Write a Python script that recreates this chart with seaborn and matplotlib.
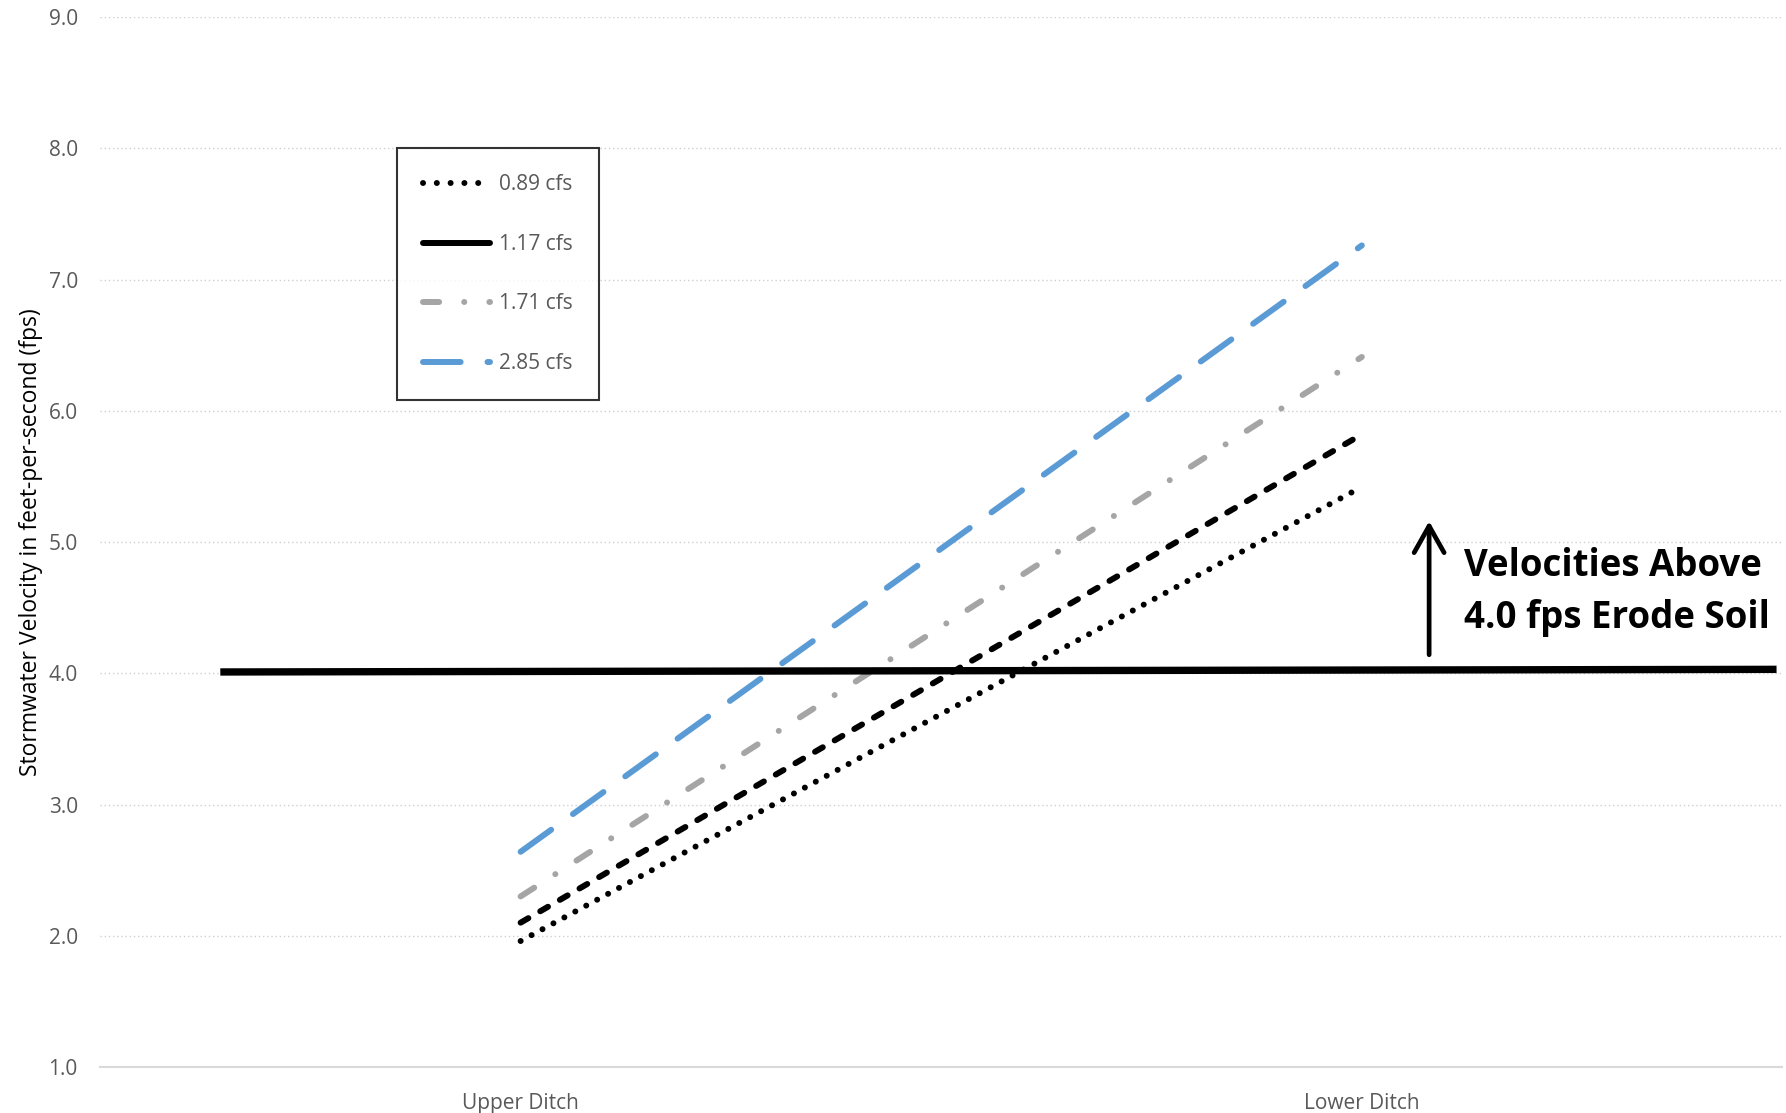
import matplotlib.pyplot as plt
import seaborn as sns
import pandas as pd
from matplotlib.lines import Line2D

plt.switch_backend('Agg')

# data
locations = ["Upper Ditch", "Lower Ditch"]
flows = ["0.89 cfs", "1.17 cfs", "1.71 cfs", "2.85 cfs"]
v_089 = [1.96, 5.42]
v_117 = [2.10, 5.82]
v_171 = [2.30, 6.41]
v_285 = [2.64, 7.26]
threshold = [4.01, 4.03]   # hand-drawn line, slightly tilted
y_ticks = [1.0, 2.0, 3.0, 4.0, 5.0, 6.0, 7.0, 8.0, 9.0]

df = pd.DataFrame({
    "pos": [0, 1] * 4,
    "velocity": v_089 + v_117 + v_171 + v_285,
    "flow": [f for f in flows for _ in locations],
})

sns.set_theme(style="white")
plt.rcParams['font.family'] = ['Open Sans', 'DejaVu Sans']

fig = plt.figure(figsize=(17.86, 11.13), dpi=100)
ax = fig.add_axes([0.056, 0.0413, 0.942, 0.9434])

grey_txt = "#595959"
lw = 4.3
styles = {
    "0.89 cfs": dict(color="black", ls=(0, (0.01, 2.07))),
    "1.17 cfs": dict(color="black", ls=(0, (1.5, 2.3))),
    "1.71 cfs": dict(color="#A5A5A5", ls=(0, (2.7, 4.2, 0.01, 4.2))),
    "2.85 cfs": dict(color="#5B9BD5", ls=(0, (6.3, 4.5))),
}
for f in flows:
    st = styles[f]
    sns.lineplot(data=df[df.flow == f], x="pos", y="velocity", ax=ax,
                 color=st["color"], linewidth=lw, linestyle=st["ls"],
                 dash_capstyle="round", legend=False)

# erosion threshold line
ax.plot([-0.357, 1.493], threshold, color="black", lw=5.3,
        solid_capstyle="butt")

ax.annotate("", xy=(1.080, 5.18), xytext=(1.080, 4.12),
            arrowprops=dict(arrowstyle="->,head_length=1.6,head_width=0.9",
                            color="black", lw=3.4))
ax.text(1.122, 4.62, "Velocities Above\n4.0 fps Erode Soil", fontsize=26.4,
        fontweight="bold", color="black", va="center", ha="left",
        linespacing=1.46)

ax.set_xlim(-0.5, 1.5)
ax.set_ylim(1.0, 9.0)
ax.set_xticks([0, 1])
ax.set_xticklabels(locations)
ax.set_yticks(y_ticks)
ax.set_yticklabels([f"{t:.1f}" for t in y_ticks])
ax.tick_params(axis="both", colors=grey_txt, labelsize=15, length=0)
ax.tick_params(axis="y", pad=16)
ax.tick_params(axis="x", pad=19)
for t in y_ticks[1:]:
    ax.axhline(t, color="#D0D0D0", lw=1, ls=(0, (1, 2)), zorder=0)
for s in ["left", "right", "top"]:
    ax.spines[s].set_visible(False)
ax.spines["bottom"].set_color("#D9D9D9")
ax.spines["bottom"].set_linewidth(1.5)

ax.set_xlabel("")
ax.set_ylabel("Stormwater Velocity in feet-per-second (fps)", fontsize=16.5,
              color="black", labelpad=4)

handles = [
    Line2D([], [], color="black", lw=lw, ls=(0, (0.01, 2.3)), dash_capstyle="round"),
    Line2D([], [], color="black", lw=lw, solid_capstyle="round"),
    Line2D([], [], color="#A5A5A5", lw=lw, ls=(0, (2.7, 4.2, 0.01, 4.2)), dash_capstyle="round"),
    Line2D([], [], color="#5B9BD5", lw=lw, ls=(0, (6.3, 4.5)), dash_capstyle="round"),
]
leg = ax.legend(handles, flows, loc="upper left", bbox_to_anchor=(0.1765, 0.875),
                borderaxespad=0, frameon=True, fancybox=False, fontsize=15,
                handlelength=3.2, handletextpad=0.45, labelspacing=1.85,
                borderpad=1.25, labelcolor=grey_txt)
leg.get_frame().set_edgecolor("black")
leg.get_frame().set_linewidth(1.5)

fig.savefig("out.png", dpi=100)
plt.close(fig)
